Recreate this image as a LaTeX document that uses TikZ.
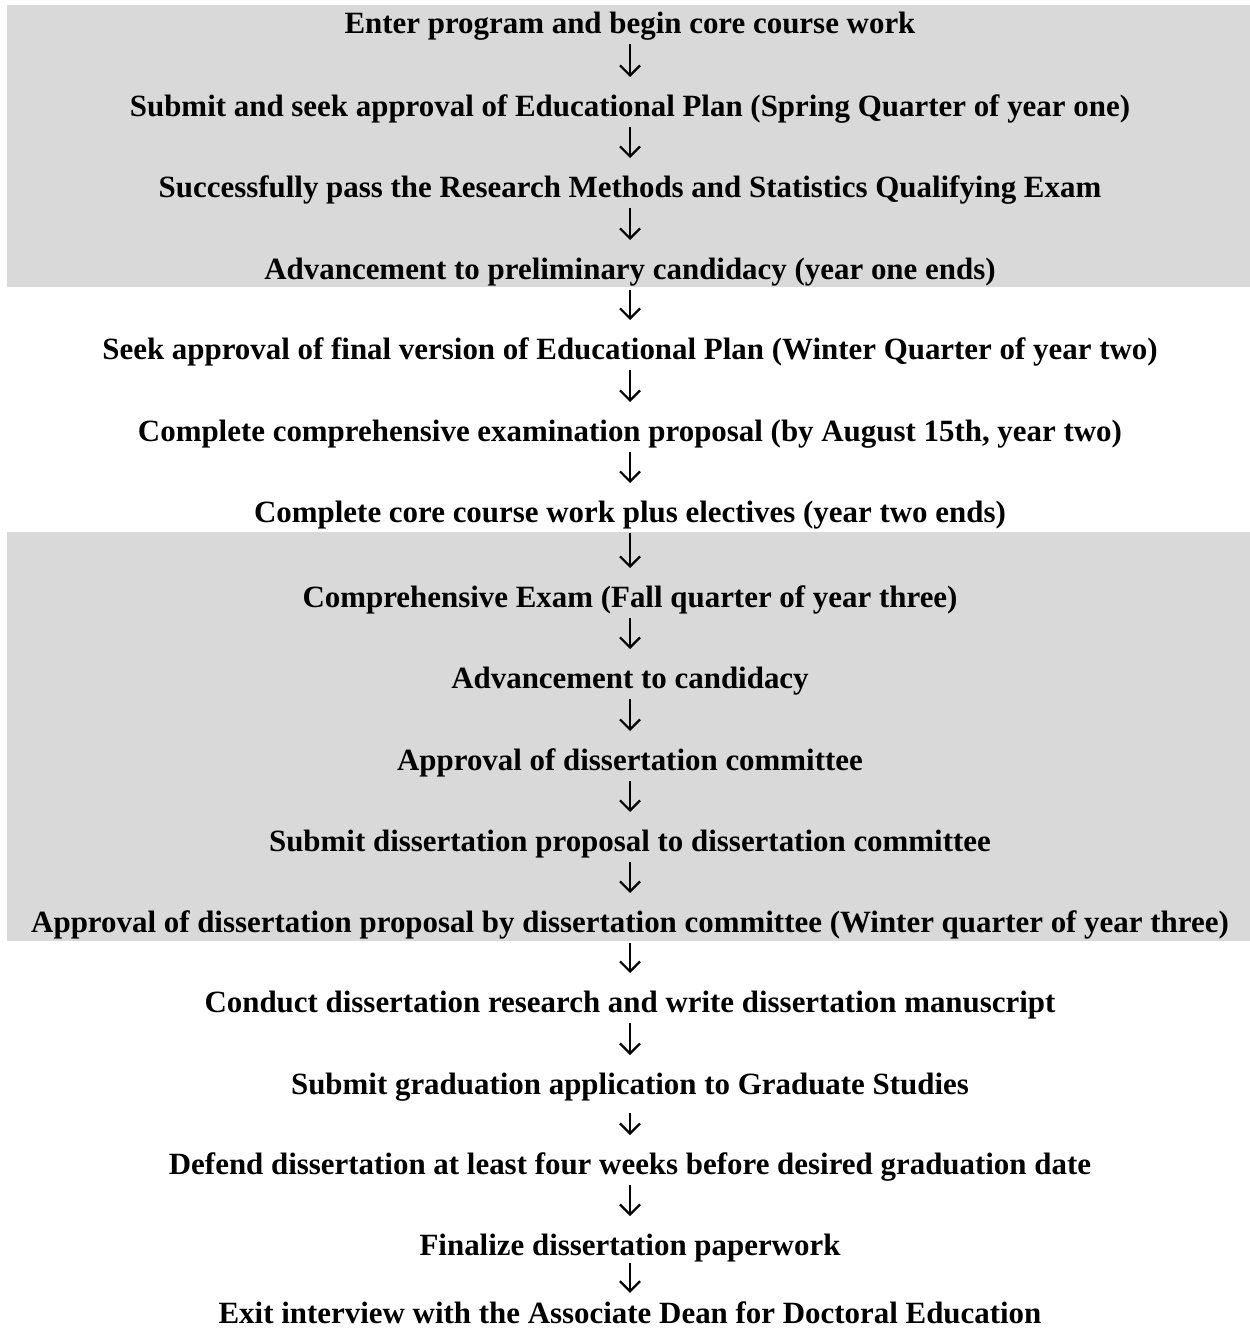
\documentclass[tikz,border=0pt]{standalone}
\usepackage{fontspec}
\setmainfont{Liberation Serif}
\usetikzlibrary{arrows.meta}
\definecolor{bandgray}{HTML}{D9D9D9}
\begin{document}
\begin{tikzpicture}[
    x=0.02cm, y=-0.02cm,
    stage/.style={inner sep=0pt, text height=12pt, text depth=3.5pt, anchor=base, font=\fontsize{17.6}{20}\selectfont\bfseries},
    flow/.style={-{Straight Barb[length=5.7pt, width=11.4pt]}, line width=1.3pt, shorten <=2.3pt, shorten >=10pt}
]
\useasboundingbox (0,0) rectangle (1250,1332);

% Shaded periods
\fill[bandgray] (7,5) rectangle (1250,287);
\fill[bandgray] (7,532) rectangle (1250,941);

% Year one
\node[stage] (enter) at (630,33) {Enter program and begin core course work};
\node[stage] (planone) at (630,116) {Submit and seek approval of Educational Plan (Spring Quarter of year one)};
\node[stage] (qualexam) at (630,197) {Successfully pass the Research Methods and Statistics Qualifying Exam};
\node[stage] (prelim) at (630,279) {Advancement to preliminary candidacy (year one ends)};

% Year two
\node[stage] (planfinal) at (630,359) {Seek approval of final version of Educational Plan (Winter Quarter of year two)};
\node[stage] (compprop) at (630,441) {Complete comprehensive examination proposal (by August 15th, year two)};
\node[stage] (corework) at (630,522) {Complete core course work plus electives (year two ends)};

% Year three
\node[stage] (compexam) at (630,607) {Comprehensive Exam (Fall quarter of year three)};
\node[stage] (candidacy) at (630,688) {Advancement to candidacy};
\node[stage] (committee) at (630,770) {Approval of dissertation committee};
\node[stage] (propsubmit) at (630,851) {Submit dissertation proposal to dissertation committee};
\node[stage] (propapproval) at (630,932) {Approval of dissertation proposal by dissertation committee (Winter quarter of year three)};

% Dissertation
\node[stage] (research) at (630,1012) {Conduct dissertation research and write dissertation manuscript};
\node[stage] (gradapp) at (630,1094) {Submit graduation application to Graduate Studies};
\node[stage] (defense) at (630,1174) {Defend dissertation at least four weeks before desired graduation date};
\node[stage] (paperwork) at (630,1255) {Finalize dissertation paperwork};
\node[stage] (exitint) at (630,1323) {Exit interview with the Associate Dean for Doctoral Education};

% Arrows
\draw[flow] (enter) -- (planone);
\draw[flow] (planone) -- (qualexam);
\draw[flow] (qualexam) -- (prelim);
\draw[flow] (prelim) -- (planfinal);
\draw[flow] (planfinal) -- (compprop);
\draw[flow] (compprop) -- (corework);
\draw[flow] (corework) -- (compexam);
\draw[flow] (compexam) -- (candidacy);
\draw[flow] (candidacy) -- (committee);
\draw[flow] (committee) -- (propsubmit);
\draw[flow] (propsubmit) -- (propapproval);
\draw[flow] (propapproval) -- (research);
\draw[flow] (research) -- (gradapp);
\draw[flow, shorten <=7pt] (gradapp) -- (defense);
\draw[flow] (defense) -- (paperwork);
\draw[flow, shorten <=1pt, shorten >=5pt] (paperwork) -- (exitint);

\end{tikzpicture}
\end{document}
